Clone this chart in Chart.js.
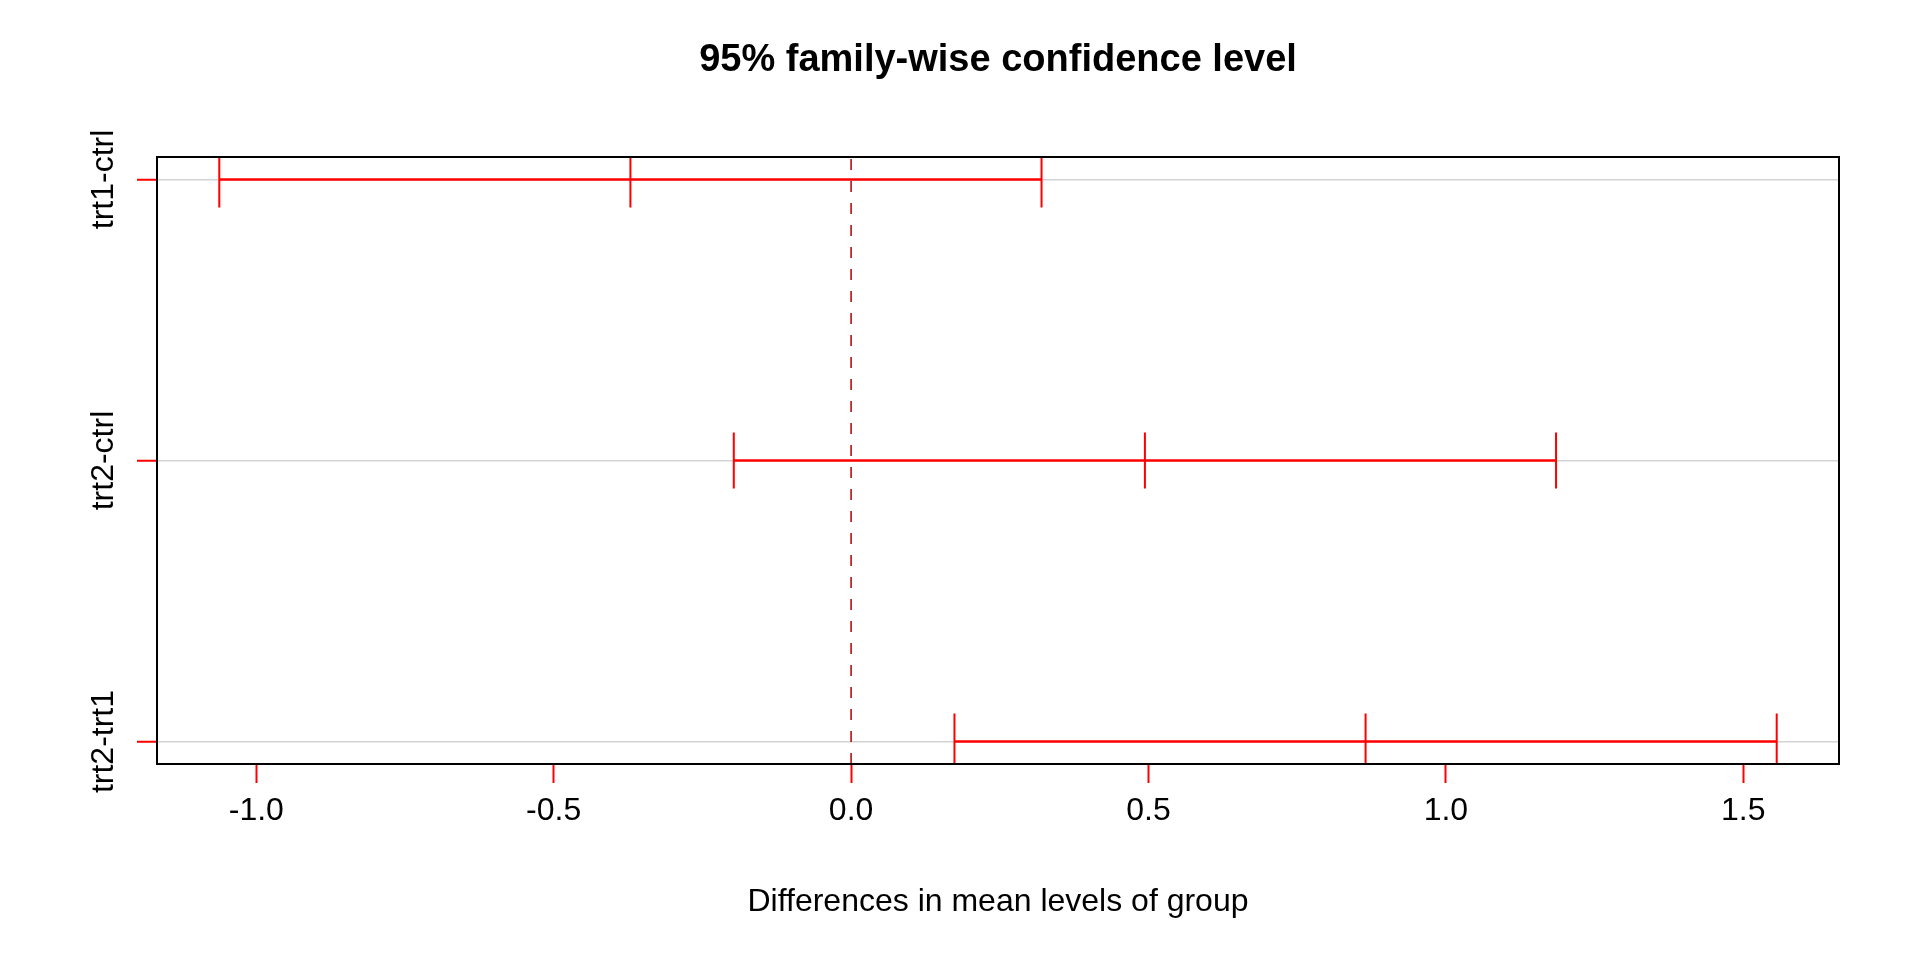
<!DOCTYPE html>
<html>
<head>
<meta charset="utf-8">
<title>95% family-wise confidence level</title>
<script src="https://cdn.jsdelivr.net/npm/chart.js@4.4.1/dist/chart.umd.min.js"></script>
<style>
  html, body { margin: 0; padding: 0; background: #ffffff; }
  #wrap { width: 1920px; height: 960px; position: relative; }
</style>
</head>
<body>
<div id="wrap"><canvas id="tukeyChart"></canvas></div>
<script>
// Dados do gráfico (TukeyHSD, de cima para baixo)
const comparisons = ['trt1-ctrl', 'trt2-ctrl', 'trt2-trt1'];
const diffs = [-0.371, 0.494, 0.865];
const lowers = [-1.0622, -0.1972, 0.1738];
const uppers = [0.3202, 1.1852, 1.5562];
const xTicks = [-1.0, -0.5, 0.0, 0.5, 1.0, 1.5];

const chartTitle = '95% family-wise confidence level';
const xTitle = 'Differences in mean levels of group';

const FONT = "'Liberation Sans', Arial, Helvetica, sans-serif";
const RED = '#FF0000';

// posição vertical de cada comparação (a primeira fica em cima)
const yVals = comparisons.map((c, i) => comparisons.length - i);

// limites como no R: faixa dos intervalos + 4%
const allX = lowers.concat(uppers);
const xSpan = Math.max(...allX) - Math.min(...allX);
const xMin = Math.min(...allX) - xSpan * 0.04;
const xMax = Math.max(...allX) + xSpan * 0.04;
const ySpan = Math.max(...yVals) - Math.min(...yVals);
const yMin = Math.min(...yVals) - ySpan * 0.04;
const yMax = Math.max(...yVals) + ySpan * 0.04;

// linhas horizontais dos intervalos
const intervalSets = comparisons.map((name, i) => ({
    label: name,
    data: [{ x: lowers[i], y: yVals[i] }, { x: uppers[i], y: yVals[i] }],
    showLine: true,
    borderColor: RED,
    borderWidth: 2.4,
    pointRadius: 0,
    order: 1
}));

// traços verticais em lwr, diff e upr (+/- 0.1)
const capData = [];
comparisons.forEach((name, i) => {
    [lowers[i], diffs[i], uppers[i]].forEach(v => {
        capData.push({ x: v, y: yVals[i] - 0.1 });
        capData.push({ x: v, y: yVals[i] + 0.1 });
        capData.push({ x: v, y: null });
    });
});

const capSet = {
    label: 'caps',
    data: capData,
    showLine: true,
    spanGaps: false,
    borderColor: RED,
    borderWidth: 2,
    pointRadius: 0,
    order: 1
};

const zeroSet = {
    label: 'zero',
    data: [{ x: 0, y: yMin }, { x: 0, y: yMax }],
    showLine: true,
    borderColor: '#B00000',
    borderWidth: 1.5,
    borderDash: [11, 11],
    pointRadius: 0,
    order: 2
};

// caixa, títulos e rótulos do eixo y (rotacionados)
const decorPlugin = {
    id: 'decor',
    afterDraw(chart) {
        const ctx = chart.ctx;
        const a = chart.chartArea;
        const yScale = chart.scales.y;
        ctx.save();
        ctx.strokeStyle = '#000000';
        ctx.lineWidth = 2;
        ctx.strokeRect(a.left, a.top, a.right - a.left, a.bottom - a.top);

        ctx.fillStyle = '#000000';
        ctx.textAlign = 'center';
        ctx.textBaseline = 'alphabetic';
        const cx = (a.left + a.right) / 2;
        ctx.font = 'bold 38px ' + FONT;
        ctx.fillText(chartTitle, cx, 71);
        ctx.font = '32px ' + FONT;
        ctx.fillText(xTitle, cx, 911);

        comparisons.forEach((name, i) => {
            const py = yScale.getPixelForValue(yVals[i]);
            ctx.save();
            ctx.translate(113, py);
            ctx.rotate(-Math.PI / 2);
            ctx.fillText(name, 0, 0);
            ctx.restore();
        });
        ctx.restore();
    }
};

new Chart(document.getElementById('tukeyChart'), {
    type: 'scatter',
    data: { datasets: [zeroSet, capSet].concat(intervalSets) },
    plugins: [decorPlugin],
    options: {
        responsive: true,
        maintainAspectRatio: false,
        animation: false,
        layout: { padding: { top: 157, right: 81, bottom: 0, left: 0 } },
        plugins: {
            legend: { display: false },
            tooltip: { enabled: false },
            title: { display: false }
        },
        scales: {
            x: {
                type: 'linear',
                min: xMin,
                max: xMax,
                afterBuildTicks: scale => { scale.ticks = xTicks.map(v => ({ value: v })); },
                afterFit: scale => { scale.height = 196; },
                border: { display: false },
                grid: {
                    drawOnChartArea: false,
                    drawTicks: true,
                    tickLength: 19,
                    tickColor: RED,
                    tickWidth: 2
                },
                ticks: {
                    color: '#000000',
                    font: { family: FONT, size: 32 },
                    padding: 9,
                    maxRotation: 0,
                    callback: v => v.toFixed(1)
                }
            },
            y: {
                type: 'linear',
                min: yMin,
                max: yMax,
                afterBuildTicks: scale => { scale.ticks = yVals.map(v => ({ value: v })); },
                afterFit: scale => { scale.width = 157; },
                border: { display: false },
                grid: {
                    color: '#D3D3D3',
                    lineWidth: 1.5,
                    drawTicks: true,
                    tickLength: 20,
                    tickColor: RED,
                    tickWidth: 2
                },
                ticks: { display: false }
            }
        }
    }
});
</script>
</body>
</html>
